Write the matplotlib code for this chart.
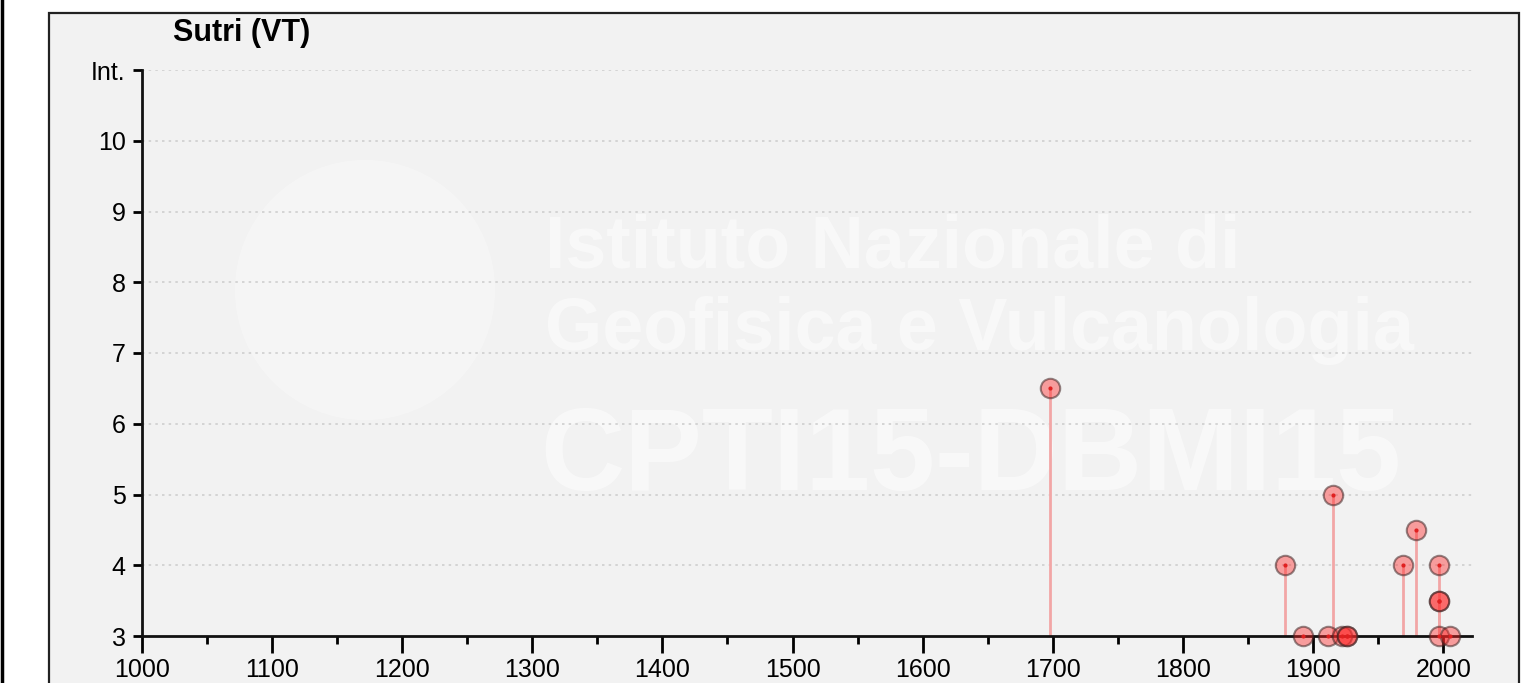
import matplotlib.pyplot as plt
from matplotlib.patches import Rectangle, Circle
from matplotlib.lines import Line2D
from matplotlib.ticker import MultipleLocator

plt.rcParams['font.family'] = ['Liberation Sans', 'DejaVu Sans']

# earthquake effects at Sutri: year and intensity
years = [1698, 1878, 1892, 1911, 1915, 1922, 1926, 1926, 1969, 1979, 1997, 1997, 1997, 1997, 2005]
intensity = [6.5, 4, 3, 3, 5, 3, 3, 3, 4, 4.5, 4, 3.5, 3.5, 3, 3]

place = "Sutri (VT)"
ytick_vals = [3, 4, 5, 6, 7, 8, 9, 10, 11]
ytick_labels = ["3", "4", "5", "6", "7", "8", "9", "10", "Int."]

W, H = 1528, 683
fig = plt.figure(figsize=(W / 100, H / 100), dpi=100)

# grey panel with border, and the black line on the far left
fig.patches.append(Rectangle((49 / W, -0.05), (1519 - 49) / W, (H - 13) / H + 0.05,
                             transform=fig.transFigure, facecolor="#f2f2f2",
                             edgecolor="#222222", lw=1.6, zorder=-3))
fig.lines.append(Line2D([1.5 / W, 1.5 / W], [0, 1], transform=fig.transFigure,
                        color="black", lw=2.5, zorder=-3))

# faint watermark
logo = Circle((365, H - 290), 130, transform=None, facecolor="white",
              edgecolor="none", alpha=0.3, zorder=-2)
fig.patches.append(logo)
wm = dict(color="white", alpha=0.5, zorder=-1, ha="left", va="baseline",
          fontweight="bold")
fig.text(545 / W, 1 - 268 / H, "Istituto Nazionale di", fontsize=53, **wm)
fig.text(545 / W, 1 - 350 / H, "Geofisica e Vulcanologia", fontsize=53, **wm)
fig.text(540 / W, 1 - 490 / H, "CPTI15-DBMI15", fontsize=84, **wm)

fig.text(242 / W, 1 - 33 / H, place, fontsize=22, fontweight="bold",
         ha="center", va="center")

ax = fig.add_axes([141.7 / W, 1 - 636 / H, (1472 - 141.7) / W, (636 - 70) / H])
ax.set_zorder(2)
ax.patch.set_visible(False)
ax.set_xlim(1000, 2022)
ax.set_ylim(3, 11)

for v in ytick_vals[1:]:
    ax.axhline(v, color="#cfcfcf", lw=1.2, ls=(0, (1.5, 2.5)), zorder=0)

ax.vlines(years, 3, intensity, color="#f2a6a6", lw=2, zorder=1)
ax.plot(years, intensity, "o", ms=14, mfc=(1, 0.15, 0.15, 0.42),
        mec=(0.25, 0.15, 0.15, 0.55), mew=1.5, clip_on=False, zorder=3)
ax.plot(years, intensity, "o", ms=2, color="#e02020", clip_on=False, zorder=4)

for s in ["top", "right"]:
    ax.spines[s].set_visible(False)
for s in ["left", "bottom"]:
    ax.spines[s].set_linewidth(2)
    ax.spines[s].set_color("#111111")

ax.xaxis.set_major_locator(MultipleLocator(100))
ax.xaxis.set_minor_locator(MultipleLocator(50))
ax.set_xticks(range(1000, 2001, 100))
ax.set_yticks(ytick_vals)
ax.set_yticklabels(ytick_labels)
ax.tick_params(axis="x", which="major", length=12, width=2, labelsize=18, pad=4)
ax.tick_params(axis="x", which="minor", length=5.5, width=2)
ax.tick_params(axis="y", length=6.5, width=2, labelsize=18, pad=5)

fig.savefig("out.png", dpi=100)
